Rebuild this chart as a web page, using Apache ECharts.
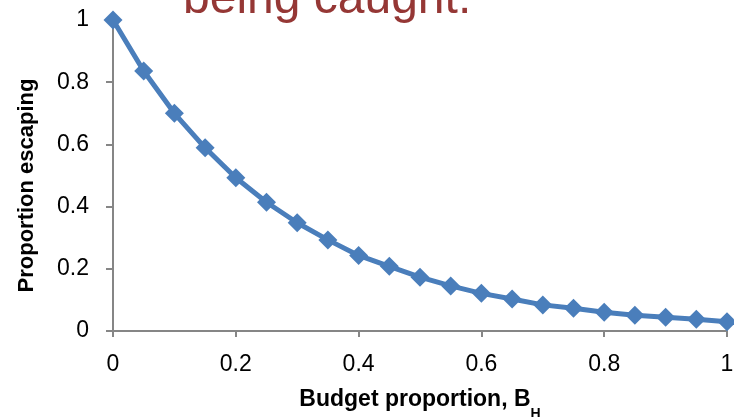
<!DOCTYPE html>
<html>
<head>
<meta charset="utf-8">
<script src="https://cdn.jsdelivr.net/npm/echarts@6/dist/echarts.min.js"></script>
<style>
  html, body { margin: 0; padding: 0; background: #fff; }
  #main { width: 734px; height: 417px; }
</style>
</head>
<body>
<div id="main"></div>
<script>
// budget proportion B_H (x) and proportion escaping (y)
var budget = [0, 0.05, 0.1, 0.15, 0.2, 0.25, 0.3, 0.35, 0.4, 0.45, 0.5,
              0.55, 0.6, 0.65, 0.7, 0.75, 0.8, 0.85, 0.9, 0.95, 1];
var escaping = [1, 0.836, 0.70, 0.589, 0.493, 0.414, 0.348, 0.293, 0.243, 0.208, 0.173,
                0.145, 0.121, 0.103, 0.084, 0.073, 0.060, 0.051, 0.044, 0.038, 0.030];

var points = [];
for (var i = 0; i < budget.length; i++) {
  points.push([budget[i], escaping[i]]);
}

var myChart = echarts.init(document.getElementById('main'));
var font = 'Liberation Sans, Arial, sans-serif';
option = {
  backgroundColor: '#fff',
  animation: false,
  title: {
    text: 'being caught.',
    left: 183,
    top: -24,
    padding: 0,
    textStyle: { fontFamily: font, fontSize: 48, fontWeight: 'normal', color: '#953735' }
  },
  grid: { left: 113, right: 7, top: 20, bottom: 86, containLabel: false, outerBoundsMode: 'none' },
  xAxis: {
    type: 'value',
    min: 0,
    max: 1,
    interval: 0.2,
    name: 'Budget proportion, B{sub|H}',
    nameLocation: 'middle',
    nameGap: 57,
    nameTextStyle: {
      fontFamily: font, fontSize: 23, fontWeight: 'bold', color: '#000',
      rich: {
        sub: { fontFamily: font, fontSize: 14, fontWeight: 'bold', color: '#000', verticalAlign: 'bottom', padding: [0, 0, -10, 0] }
      }
    },
    splitLine: { show: false },
    axisLine: { lineStyle: { color: '#868686', width: 2 } },
    axisTick: { show: true, length: 6, lineStyle: { color: '#868686', width: 2 } },
    axisLabel: { fontFamily: font, fontSize: 23, color: '#000', margin: 22 }
  },
  yAxis: {
    type: 'value',
    min: 0,
    max: 1,
    interval: 0.2,
    name: 'Proportion escaping',
    nameLocation: 'middle',
    nameGap: 75,
    nameTextStyle: { fontFamily: font, fontSize: 22, fontWeight: 'bold', color: '#000', padding: [0, 20, 0, 0] },
    splitLine: { show: false },
    axisLine: { show: true, lineStyle: { color: '#868686', width: 2 } },
    axisTick: { show: true, length: 7, lineStyle: { color: '#868686', width: 2 } },
    axisLabel: { fontFamily: font, fontSize: 23, color: '#000', margin: 24 }
  },
  series: [{
    type: 'line',
    data: points,
    symbol: 'diamond',
    symbolSize: 19,
    lineStyle: { color: '#4a7ebb', width: 5 },
    itemStyle: { color: '#4a7ebb' }
  }]
};
myChart.setOption(option);
</script>
</body>
</html>
